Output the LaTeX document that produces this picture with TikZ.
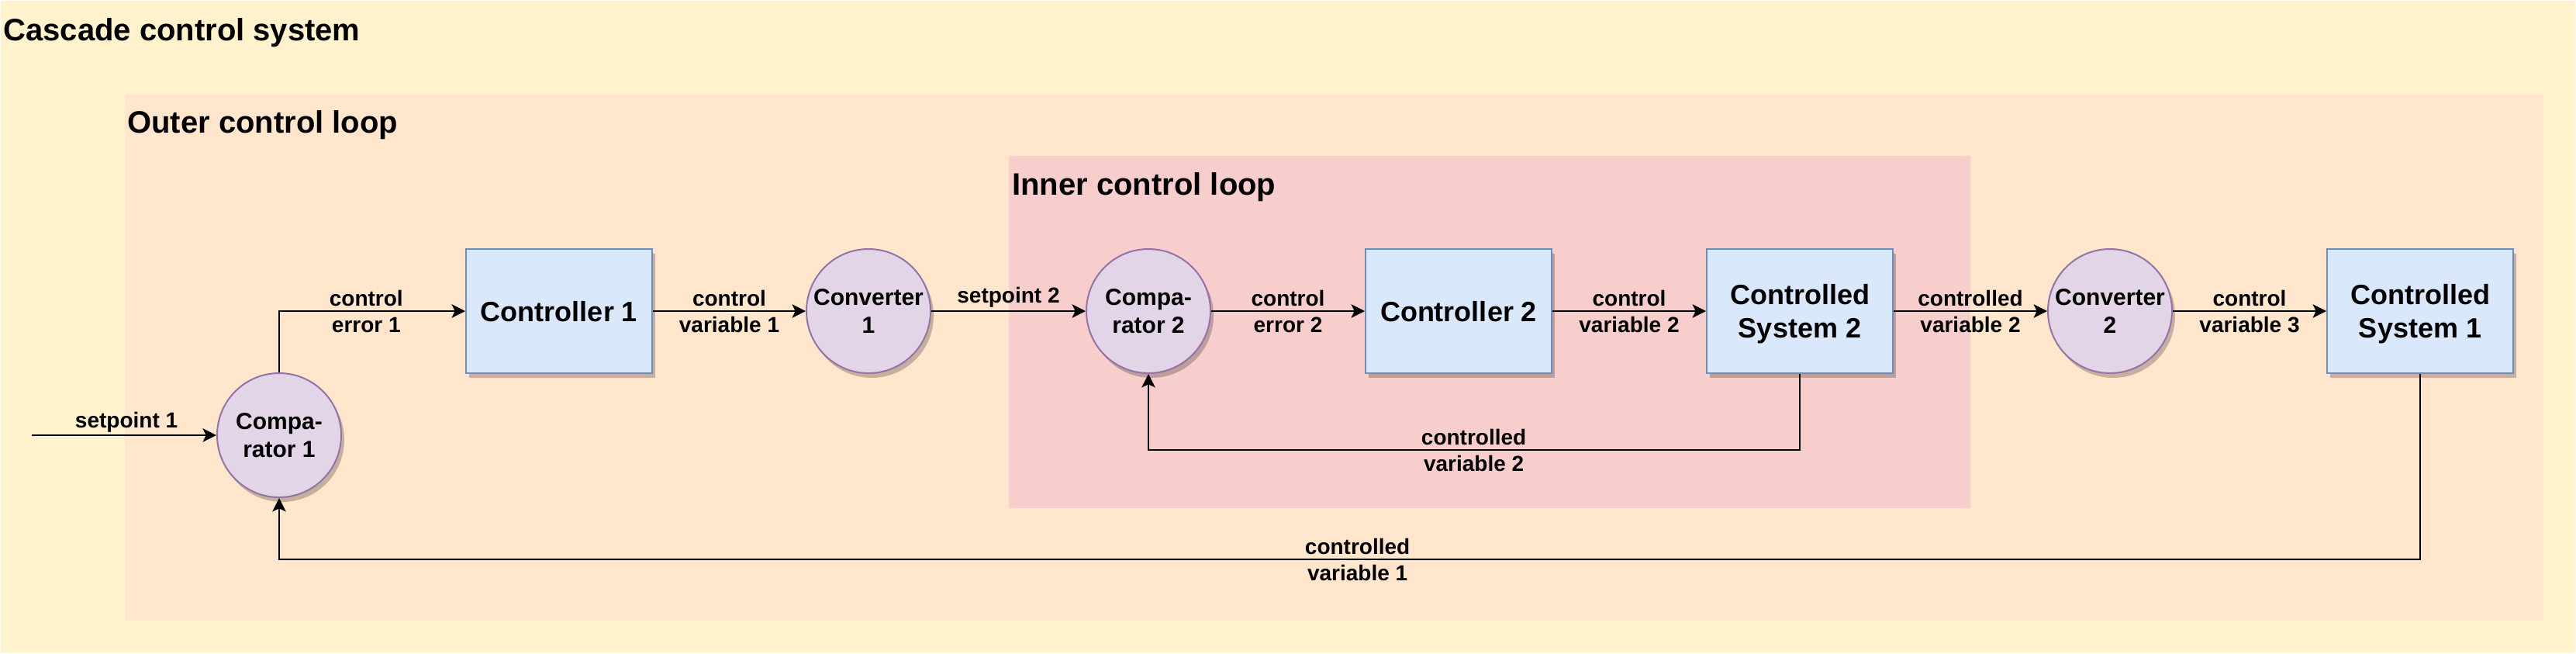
\documentclass[tikz,border=0pt]{standalone}
\usepackage{fontspec}
\setmainfont{Liberation Sans}
\usepackage{tikz}
\usetikzlibrary{arrows.meta,shadows}

\definecolor{sysfill}{HTML}{FFF2CC}
\definecolor{outerfill}{HTML}{FFE6CC}
\definecolor{innerfill}{HTML}{F8CECC}
\definecolor{blockfill}{HTML}{DAE8FC}
\definecolor{blockline}{HTML}{6C8EBF}
\definecolor{unitfill}{HTML}{E1D5E7}
\definecolor{unitline}{HTML}{9673A6}

\tikzset{
  dropshade/.style={drop shadow={shadow xshift=2pt, shadow yshift=-3pt,
    fill=black, opacity=.23}},
  block/.style={rectangle, align=center, inner sep=0pt, draw=blockline,
    fill=blockfill, line width=1pt, minimum width=120pt, minimum height=80pt,
    dropshade, font=\fontsize{18}{21.6}\selectfont\bfseries,
    text height=17.37pt, text depth=4.23pt},
  tall/.style={text height=38.97pt},
  unit/.style={circle, align=center, inner sep=0pt, draw=unitline,
    fill=unitfill, line width=1pt, minimum size=80pt, dropshade,
    font=\fontsize{15}{18}\selectfont\bfseries,
    text height=32.48pt, text depth=3.53pt},
  sig/.style={line width=1pt, -{Stealth[length=8.7pt, width=8.7pt, inset=2pt]}},
  lbl/.style={align=center, inner sep=0pt,
    font=\fontsize{14}{16.8}\selectfont\bfseries,
    text height=30.31pt, text depth=3.29pt},
  lbltop/.style={inner sep=0pt, anchor=base,
    font=\fontsize{14}{16.8}\selectfont\bfseries},
  looptitle/.style={anchor=base west, inner sep=0pt,
    font=\fontsize{20}{24}\selectfont\bfseries}
}

\begin{document}
\begin{tikzpicture}[x=1pt, y=-1pt]
\useasboundingbox (0,0) rectangle (1661,421);
\fill[sysfill] (0.5,0.5) rectangle (1660.5,420.5);
\fill[outerfill] (80.5,60.5) rectangle (1640,400);
\fill[innerfill] (650.5,100.5) rectangle (1270.5,327.5);
\node[looptitle] (tsys) at (2,26) {Cascade control system};
\node[looptitle] (touter) at (82,85.5) {Outer control loop};
\node[looptitle] (tinner) at (652.5,125.8) {Inner control loop};

\node[unit] (cmpA) at (180,280.5) {Compa-\\rator 1};
\node[block] (ctrlA) at (360.5,200.5) {Controller 1};
\node[unit] (convA) at (560,200.5) {Converter\\1};
\node[unit] (cmpB) at (740.5,200.5) {Compa-\\rator 2};
\node[block] (ctrlB) at (940.5,200.5) {Controller 2};
\node[block, tall] (sysB) at (1160.5,200.5) {Controlled\\System 2};
\node[unit] (convB) at (1360.5,200.5) {Converter\\2};
\node[block, tall] (sysA) at (1560.5,200.5) {Controlled\\System 1};
\coordinate (in) at (20.5,280.5);
\coordinate (lowB) at (950.3,290);
\coordinate (lowA) at (875.3,360.5);

\draw[sig] (in) -- node[lbltop, yshift=5pt, pos=.513] {setpoint 1} (cmpA);
\draw[sig] (cmpA) |- node[lbl, pos=.734] {control\\error 1} (ctrlA);
\draw[sig] (ctrlA) -- node[lbl] {control\\variable 1} (convA);
\draw[sig] (convA) -- node[lbltop, yshift=5.5pt] {setpoint 2} (cmpB);
\draw[sig] (cmpB) -- node[lbl] {control\\error 2} (ctrlB);
\draw[sig] (ctrlB) -- node[lbl] {control\\variable 2} (sysB);
\draw[sig] (sysB) -- node[lbl] {controlled\\variable 2} (convB);
\draw[sig] (convB) -- node[lbl] {control\\variable 3} (sysA);
\draw[sig] (sysB) |- node[lbl, pos=1] {controlled\\variable 2} (lowB) -| (cmpB);
\draw[sig] (sysA) |- node[lbl, pos=1] {controlled\\variable 1} (lowA) -| (cmpA);
\end{tikzpicture}
\end{document}
